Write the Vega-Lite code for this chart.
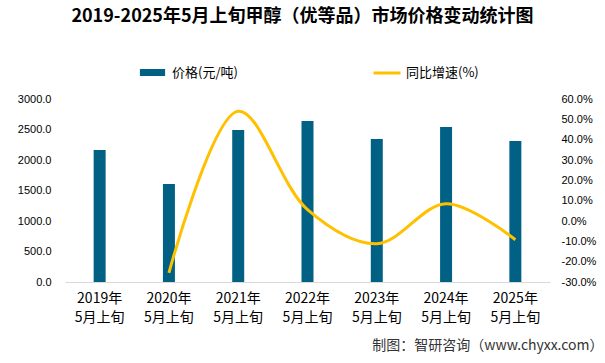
{
  "$schema": "https://vega.github.io/schema/vega-lite/v6.json",
  "width": 485,
  "height": 183,
  "autosize": "none",
  "padding": {"left": 65, "top": 99, "right": 55, "bottom": 81},
  "background": "white",
  "title": {
    "text": "2019-2025年5月上旬甲醇（优等品）市场价格变动统计图",
    "font": "Noto Sans CJK SC",
    "fontSize": 18,
    "fontWeight": "bold",
    "color": "#000000",
    "anchor": "middle",
    "dx": -5,
    "offset": 32
  },
  "config": {
    "view": {"stroke": null},
    "axis": {"grid": false, "ticks": false, "labelColor": "#000000"}
  },
  "data": {
    "values": [
      {"period": "2019年5月上旬", "price": 2164, "growth": null},
      {"period": "2020年5月上旬", "price": 1607, "growth": -25.5},
      {"period": "2021年5月上旬", "price": 2492, "growth": 54.0},
      {"period": "2022年5月上旬", "price": 2639, "growth": 5.6},
      {"period": "2023年5月上旬", "price": 2344, "growth": -11.2},
      {"period": "2024年5月上旬", "price": 2541, "growth": 8.5},
      {"period": "2025年5月上旬", "price": 2311, "growth": -9.2}
    ]
  },
  "encoding": {
    "x": {
      "field": "period",
      "type": "nominal",
      "sort": null,
      "scale": {"paddingInner": 0.827, "paddingOuter": 0.4135},
      "axis": {
        "title": "制图：智研咨询（www.chyxx.com）",
        "titleFont": "Noto Sans CJK SC",
        "titleFontSize": 14,
        "titleFontWeight": "normal",
        "titleColor": "#333333",
        "titleAlign": "right",
        "titleAnchor": "end",
        "titleBaseline": "middle",
        "titleX": 538,
        "titleY": 63,
        "labelAngle": 0,
        "labelFont": "Noto Sans CJK SC",
        "labelFontSize": 14,
        "labelLineHeight": 19,
        "labelPadding": 9,
        "labelExpr": "[slice(datum.label,0,5), slice(datum.label,5)]",
        "domainColor": "#D9D9D9",
        "domainWidth": 1
      }
    }
  },
  "layer": [
    {
      "mark": {"type": "bar"},
      "encoding": {
        "y": {
          "field": "price",
          "type": "quantitative",
          "scale": {"domain": [0, 3000]},
          "axis": {
            "title": null,
            "values": [0, 500, 1000, 1500, 2000, 2500, 3000],
            "format": ".1f",
            "domain": false,
            "labelFont": "Liberation Sans",
            "labelFontSize": 11,
            "labelPadding": 14
          }
        },
        "fill": {
          "datum": "价格(元/吨)",
          "type": "nominal",
          "scale": {"range": ["#006185"]},
          "legend": {
            "title": null,
            "orient": "none",
            "legendX": 81,
            "legendY": -33,
            "symbolType": "M-3.6,-1H3.6V1H-3.6Z",
            "symbolSize": 49,
            "symbolStrokeWidth": 0,
            "labelFont": "Noto Sans CJK SC",
            "labelFontSize": 13,
            "labelColor": "#000000",
            "labelOffset": 13
          }
        }
      }
    },
    {
      "mark": {"type": "line", "interpolate": "catmull-rom", "strokeWidth": 3},
      "transform": [{"filter": "datum.growth != null"}],
      "encoding": {
        "y": {
          "field": "growth",
          "type": "quantitative",
          "scale": {"domain": [-30, 60]},
          "axis": {
            "title": null,
            "orient": "right",
            "values": [-30, -20, -10, 0, 10, 20, 30, 40, 50, 60],
            "labelExpr": "replace(format(datum.value, '.1f'), '−', '-') + '%'",
            "domain": false,
            "labelFont": "Liberation Sans",
            "labelFontSize": 11,
            "labelPadding": 11
          }
        },
        "stroke": {
          "datum": "同比增速(%)",
          "type": "nominal",
          "scale": {"range": ["#FFC000"]},
          "legend": {
            "title": null,
            "orient": "none",
            "legendX": 307,
            "legendY": -41,
            "symbolType": "stroke",
            "symbolSize": 729,
            "symbolStrokeWidth": 3,
            "labelFont": "Noto Sans CJK SC",
            "labelFontSize": 13,
            "labelColor": "#000000",
            "labelOffset": 4
          }
        }
      }
    }
  ],
  "resolve": {"scale": {"y": "independent", "fill": "independent", "stroke": "independent"}}
}
